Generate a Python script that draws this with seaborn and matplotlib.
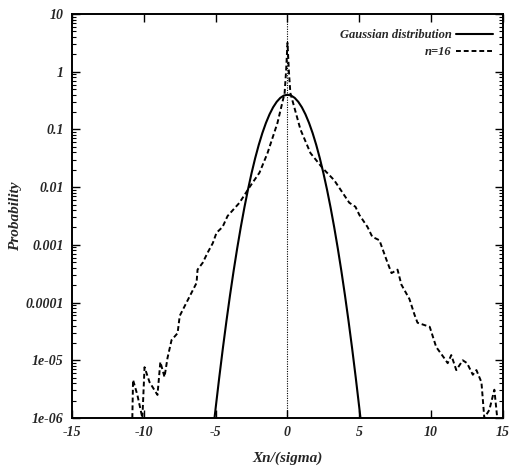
import matplotlib
matplotlib.use("Agg")
import matplotlib.pyplot as plt
import seaborn as sns
import numpy as np
from matplotlib.ticker import LogLocator, NullFormatter, FixedLocator

# Gaussian distribution
gauss_x = [-5.08, -5.0, -4.75, -4.5, -4.25, -4.0, -3.75, -3.5, -3.25, -3.0, -2.75, -2.5,
           -2.25, -2.0, -1.75, -1.5, -1.25, -1.0, -0.75, -0.5, -0.25, 0.0,
           0.25, 0.5, 0.75, 1.0, 1.25, 1.5, 1.75, 2.0, 2.25, 2.5, 2.75, 3.0,
           3.25, 3.5, 3.75, 4.0, 4.25, 4.5, 4.75, 5.0, 5.08]
gauss_p = [1.0e-6, 1.49e-6, 5.03e-6, 1.60e-5, 4.77e-5, 1.34e-4, 3.53e-4, 8.73e-4, 2.03e-3,
           4.43e-3, 9.09e-3, 1.75e-2, 3.17e-2, 5.40e-2, 8.63e-2, 0.1295, 0.1826, 0.2420,
           0.3011, 0.3521, 0.3867, 0.3989,
           0.3867, 0.3521, 0.3011, 0.2420, 0.1826, 0.1295, 8.63e-2, 5.40e-2, 3.17e-2,
           1.75e-2, 9.09e-3, 4.43e-3, 2.03e-3, 8.73e-4, 3.53e-4, 1.34e-4, 4.77e-5,
           1.60e-5, 5.03e-6, 1.49e-6, 1.0e-6]

# n=16 distribution
n16_x = [-10.8, -10.75, -10.45, -10.1, -9.95, -9.6, -9.05, -8.85, -8.56, -8.35, -8.07,
         -7.65, -7.5, -7.03, -6.68, -6.33, -6.26, -5.9, -5.57, -5.2, -4.94, -4.52, -4.17,
         -3.34, -2.64, -1.95, -1.39, -0.7, -0.2, -0.1, -0.04, 0.0, 0.04, 0.1, 0.2, 0.9,
         1.6, 2.44, 3.25, 4.3, 4.73, 5.0, 5.57, 5.9, 6.4, 6.89, 7.24, 7.66, 7.93, 8.49,
         8.84, 9.05, 9.9, 10.35, 10.9, 11.15, 11.4, 11.75, 12.2, 12.5, 12.9, 13.15, 13.5,
         13.7, 14.05, 14.4, 14.6]
n16_p = [1.0e-6, 4.57e-6, 2.51e-6, 1.0e-6, 7.59e-6, 4.17e-6, 2.51e-6, 9.33e-6, 5.13e-6,
         1.10e-5, 2.24e-5, 2.95e-5, 5.89e-5, 1.0e-4, 1.48e-4, 2.19e-4, 3.72e-4, 4.90e-4,
         7.24e-4, 1.07e-3, 1.62e-3, 2.04e-3, 3.16e-3, 5.37e-3, 1.0e-2, 1.78e-2, 3.89e-2,
         0.129, 0.427, 1.0, 2.0, 3.16, 2.0, 1.0, 0.427, 0.1, 3.89e-2, 2.14e-2, 1.32e-2,
         5.37e-3, 4.57e-3, 3.31e-3, 2.04e-3, 1.38e-3, 1.20e-3, 5.50e-4, 3.24e-4, 3.72e-4,
         2.04e-4, 1.15e-4, 6.17e-5, 4.47e-5, 3.80e-5, 1.70e-5, 1.10e-5, 8.91e-6, 1.23e-5,
         6.76e-6, 1.0e-5, 8.91e-6, 5.62e-6, 6.76e-6, 4.17e-6, 1.0e-6, 1.38e-6, 3.09e-6,
         1.0e-6]

x_ticks = [-15, -10, -5, 0, 5, 10, 15]
y_ticks = [1e-6, 1e-5, 1e-4, 1e-3, 1e-2, 0.1, 1, 10]
y_tick_labels = ["1e-06", "1e-05", "0.0001", "0.001", "0.01", "0.1", "1", "10"]

sns.set_style("ticks")
plt.rcParams["font.family"] = ["Liberation Serif", "DejaVu Serif"]

fig = plt.figure(figsize=(5.12, 4.66), dpi=100)
ax = fig.add_axes([0.1406, 0.103, 0.8418, 0.867])

ax.axvline(0, color="black", lw=0.8, ls=(0, (1, 1.2)), zorder=1)
sns.lineplot(x=gauss_x, y=gauss_p, ax=ax, color="black", lw=1.5, sort=False,
             estimator=None, label="Gaussian distribution")
sns.lineplot(x=n16_x, y=n16_p, ax=ax, color="black", lw=1.4, sort=False,
             estimator=None, label="n=16", linestyle=(0, (2.5, 1.5)))

ax.set_yscale("log")
ax.set_xlim(-15, 15)
ax.set_ylim(1e-6, 10)
ax.xaxis.set_major_locator(FixedLocator(x_ticks))
ax.set_xticklabels([str(v) for v in x_ticks])
ax.yaxis.set_major_locator(FixedLocator(y_ticks))
ax.set_yticklabels(y_tick_labels)
ax.yaxis.set_minor_locator(LogLocator(base=10, subs=np.arange(2, 10), numticks=20))
ax.yaxis.set_minor_formatter(NullFormatter())

ax.tick_params(which="both", direction="in", top=True, right=True, color="black")
ax.tick_params(which="major", length=6, width=1.0, labelsize=10, pad=6)
ax.tick_params(which="minor", length=3, width=0.8)
for lab in ax.get_xticklabels() + ax.get_yticklabels():
    lab.set_fontstyle("italic")
    lab.set_fontweight("bold")

for s in ax.spines.values():
    s.set_linewidth(1.4)
    s.set_color("black")

ax.set_xlabel("Xn/(sigma)", fontsize=11, fontstyle="italic", fontweight="bold", labelpad=9)
ax.set_ylabel("Probability", fontsize=11, fontstyle="italic", fontweight="bold", labelpad=2)

leg = ax.legend(loc="upper right", frameon=False, markerfirst=False,
                prop={"size": 9, "style": "italic", "weight": "bold"},
                handlelength=3.0, handletextpad=0.3, labelspacing=0.4,
                borderpad=0, borderaxespad=0, bbox_to_anchor=(0.977, 0.963))

fig.savefig("out.png", dpi=100)
